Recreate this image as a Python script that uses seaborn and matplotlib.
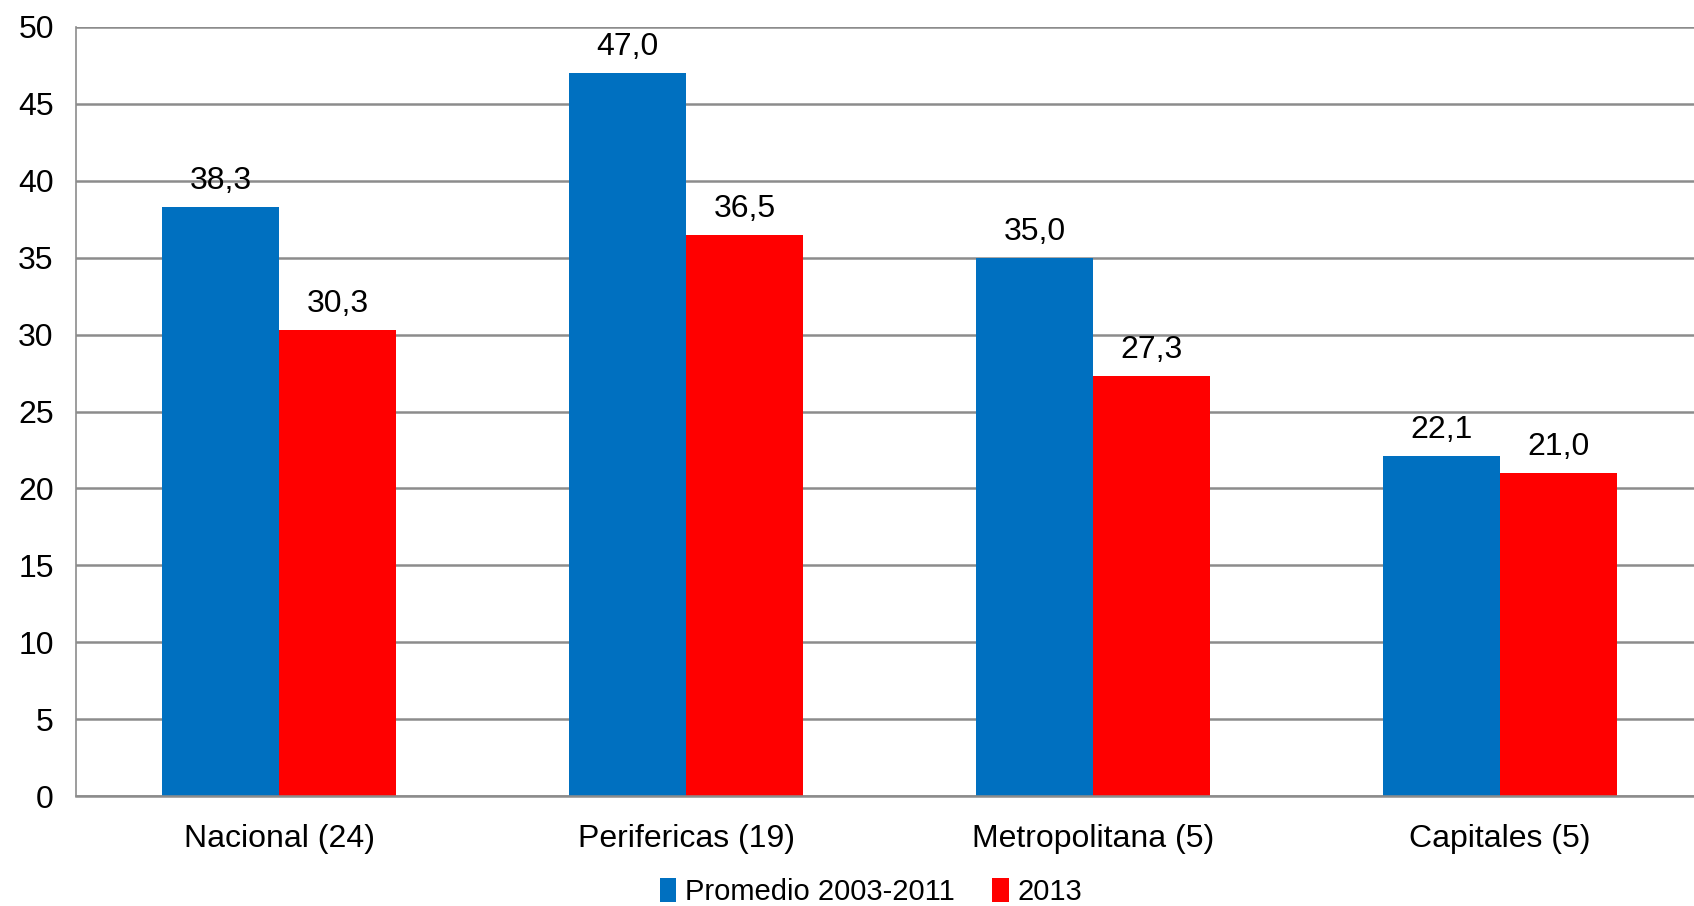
import matplotlib
matplotlib.use('Agg')
import matplotlib.pyplot as plt
import pandas as pd
import seaborn as sns

categorias = ['Nacional (24)', 'Perifericas (19)', 'Metropolitana (5)', 'Capitales (5)']
promedio = [38.3, 47.0, 35.0, 22.1]
anio_2013 = [30.3, 36.5, 27.3, 21.0]
series = ['Promedio 2003-2011', '2013']
colores = ['#0070C0', '#FF0000']

df = pd.DataFrame({
    'categoria': categorias * 2,
    'valor': promedio + anio_2013,
    'serie': [series[0]] * 4 + [series[1]] * 4,
})

sns.set_style('white')
plt.rcParams['font.family'] = ['Liberation Sans', 'DejaVu Sans']
plt.rcParams['text.color'] = 'black'
plt.rcParams['xtick.labelcolor'] = 'black'
plt.rcParams['ytick.labelcolor'] = 'black'
fs = 23

fig = plt.figure(figsize=(16.94, 9.06), dpi=100)
ax = fig.add_axes([76 / 1694, 1 - 796 / 906, (1703 - 76) / 1694, (796 - 27) / 906])

sns.barplot(data=df, x='categoria', y='valor', hue='serie', palette=colores,
            width=0.575, saturation=1, linewidth=0, ax=ax, legend=True)

for cont in ax.containers:
    labels = [f'{b.get_height():.1f}'.replace('.', ',') for b in cont]
    ax.bar_label(cont, labels=labels, padding=8, fontsize=fs, color='black')

ax.set_ylim(0, 50)
ax.set_xlim(-0.5, 3.5)
ax.set_yticks(range(0, 51, 5))
ax.yaxis.grid(True, color='#8c8c8c', linewidth=1.8)
ax.set_axisbelow(True)
ax.set_xticks([0, 1, 2, 3])
ax.set_xticks([-0.5, 0.5, 1.5, 2.5], minor=True)
ax.tick_params(axis='x', which='major', length=0, labelsize=fs, pad=20)
ax.tick_params(axis='x', which='minor', length=10, width=1.2, color='#8c8c8c')
ax.tick_params(axis='y', length=8, width=1.2, color='#8c8c8c', labelsize=fs, pad=8)
ax.set_xlabel('')
ax.set_ylabel('')

for s in ['top', 'right']:
    ax.spines[s].set_visible(False)
ax.spines['left'].set_color('#8c8c8c')
ax.spines['left'].set_linewidth(1.2)
ax.spines['bottom'].set_color('#8c8c8c')
ax.spines['bottom'].set_linewidth(1.8)

handles, labs = ax.get_legend_handles_labels()
ax.legend(handles, labs, loc='center', bbox_to_anchor=(871 / 1694, 1 - 892 / 906),
          bbox_transform=fig.transFigure, ncol=2, frameon=False, fontsize=21,
          handlelength=0.55, handleheight=0.9, handletextpad=0.3, columnspacing=1.3)

fig.savefig('out.png', dpi=100)
